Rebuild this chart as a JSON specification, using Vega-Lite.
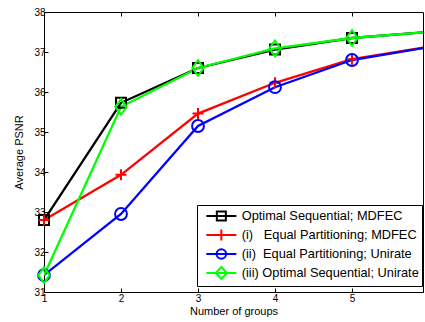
{
  "$schema": "https://vega.github.io/schema/vega-lite/v6.json",
  "width": 379,
  "height": 280,
  "autosize": {"type": "none"},
  "padding": {"left": 44, "top": 12, "right": 2, "bottom": 30},
  "config": {
    "font": "Liberation Sans",
    "view": {"stroke": "black", "strokeWidth": 1},
    "legend": {"rowPadding": 0},
    "axis": {"labelFont": "Liberation Sans", "titleFont": "Liberation Sans", "labelColor": "black", "titleColor": "black", "domainColor": "black", "tickColor": "black", "grid": false, "labelFontSize": 10, "titleFontSize": 11, "titleFontWeight": "normal", "labelOverlap": false}
  },
  "data": {"values": [
    {"g": 1, "s": "Optimal Sequential; MDFEC", "v": 32.8},
    {"g": 2, "s": "Optimal Sequential; MDFEC", "v": 35.73},
    {"g": 3, "s": "Optimal Sequential; MDFEC", "v": 36.6},
    {"g": 4, "s": "Optimal Sequential; MDFEC", "v": 37.06},
    {"g": 5, "s": "Optimal Sequential; MDFEC", "v": 37.35},
    {"g": 6, "s": "Optimal Sequential; MDFEC", "v": 37.5},
    {"g": 1, "s": "(i)\u00a0\u00a0\u00a0Equal Partitioning; MDFEC", "v": 32.8},
    {"g": 2, "s": "(i)\u00a0\u00a0\u00a0Equal Partitioning; MDFEC", "v": 33.93},
    {"g": 3, "s": "(i)\u00a0\u00a0\u00a0Equal Partitioning; MDFEC", "v": 35.46},
    {"g": 4, "s": "(i)\u00a0\u00a0\u00a0Equal Partitioning; MDFEC", "v": 36.23},
    {"g": 5, "s": "(i)\u00a0\u00a0\u00a0Equal Partitioning; MDFEC", "v": 36.82},
    {"g": 6, "s": "(i)\u00a0\u00a0\u00a0Equal Partitioning; MDFEC", "v": 37.13},
    {"g": 1, "s": "(ii)\u00a0\u00a0Equal Partitioning; Unirate", "v": 31.42},
    {"g": 2, "s": "(ii)\u00a0\u00a0Equal Partitioning; Unirate", "v": 32.95},
    {"g": 3, "s": "(ii)\u00a0\u00a0Equal Partitioning; Unirate", "v": 35.15},
    {"g": 4, "s": "(ii)\u00a0\u00a0Equal Partitioning; Unirate", "v": 36.12},
    {"g": 5, "s": "(ii)\u00a0\u00a0Equal Partitioning; Unirate", "v": 36.8},
    {"g": 6, "s": "(ii)\u00a0\u00a0Equal Partitioning; Unirate", "v": 37.12},
    {"g": 1, "s": "(iii) Optimal Sequential; Unirate", "v": 31.42},
    {"g": 2, "s": "(iii) Optimal Sequential; Unirate", "v": 35.63},
    {"g": 3, "s": "(iii) Optimal Sequential; Unirate", "v": 36.6},
    {"g": 4, "s": "(iii) Optimal Sequential; Unirate", "v": 37.09},
    {"g": 5, "s": "(iii) Optimal Sequential; Unirate", "v": 37.35},
    {"g": 6, "s": "(iii) Optimal Sequential; Unirate", "v": 37.5}
  ]},
  "layer": [
    {
      "mark": {"type": "line", "strokeWidth": 2.3, "clip": true},
      "encoding": {
        "x": {"field": "g", "type": "quantitative", "scale": {"domain": [1, 5.922], "nice": false, "zero": false}, "axis": {"values": [1, 2, 3, 4, 5], "title": "Number of groups", "tickSize": -4, "labelPadding": 5, "titlePadding": 2, "labelFlush": false, "labelOverlap": false}},
        "y": {"field": "v", "type": "quantitative", "scale": {"domain": [31, 38], "nice": false, "zero": false}, "axis": {"values": [31, 32, 33, 34, 35, 36, 37, 38], "title": "Average PSNR", "tickSize": -4, "labelPadding": 3, "titlePadding": 9, "labelOverlap": false, "labelFlush": false}},
        "color": {"field": "s", "type": "nominal", "sort": null, "scale": {"domain": ["Optimal Sequential; MDFEC", "(i)\u00a0\u00a0\u00a0Equal Partitioning; MDFEC", "(ii)\u00a0\u00a0Equal Partitioning; Unirate", "(iii) Optimal Sequential; Unirate"], "range": ["#000000", "#ff0000", "#0000ff", "#00ff00"]}, "legend": null}
      }
    },
    {
      "transform": [{"filter": "datum.g <= 5"}],
      "mark": {"type": "point", "filled": false, "strokeWidth": 2, "opacity": 1},
      "encoding": {
        "x": {"field": "g", "type": "quantitative", "axis": null},
        "y": {"field": "v", "type": "quantitative", "axis": {"values": [31, 32, 33, 34, 35, 36, 37, 38], "title": "Average PSNR", "tickSize": -4, "labelPadding": 3, "titlePadding": 9, "labelOverlap": false, "labelFlush": false}},
        "color": {"field": "s", "type": "nominal", "sort": null, "scale": {"domain": ["Optimal Sequential; MDFEC", "(i)\u00a0\u00a0\u00a0Equal Partitioning; MDFEC", "(ii)\u00a0\u00a0Equal Partitioning; Unirate", "(iii) Optimal Sequential; Unirate"], "range": ["#000000", "#ff0000", "#0000ff", "#00ff00"]}, "legend": null},
        "shape": {"field": "s", "type": "nominal", "sort": null, "scale": {"domain": ["Optimal Sequential; MDFEC", "(i)\u00a0\u00a0\u00a0Equal Partitioning; MDFEC", "(ii)\u00a0\u00a0Equal Partitioning; Unirate", "(iii) Optimal Sequential; Unirate"], "range": ["square", "M-1,0H1M0,-1V1", "circle", "M0,-1.25L0.9,0L0,1.25L-0.9,0Z"]}, "legend": null},
        "size": {"field": "s", "type": "nominal", "sort": null, "scale": {"domain": ["Optimal Sequential; MDFEC", "(i)\u00a0\u00a0\u00a0Equal Partitioning; MDFEC", "(ii)\u00a0\u00a0Equal Partitioning; Unirate", "(iii) Optimal Sequential; Unirate"], "range": [100, 160, 150, 150]}, "legend": null}
      }
    },
    {
      "mark": {"type": "point", "filled": false, "strokeWidth": 2, "opacity": 0, "clip": true},
      "encoding": {
        "x": {"field": "g", "type": "quantitative", "axis": {"orient": "top", "values": [1, 2, 3, 4, 5], "labels": false, "title": null, "tickSize": -4, "domain": false}},
        "y": {"field": "v", "type": "quantitative", "axis": {"values": [31, 32, 33, 34, 35, 36, 37, 38], "title": "Average PSNR", "tickSize": -4, "labelPadding": 3, "titlePadding": 9, "labelOverlap": false, "labelFlush": false}},
        "color": {"field": "s", "type": "nominal", "sort": null, "scale": {"domain": ["Optimal Sequential; MDFEC", "(i)\u00a0\u00a0\u00a0Equal Partitioning; MDFEC", "(ii)\u00a0\u00a0Equal Partitioning; Unirate", "(iii) Optimal Sequential; Unirate"], "range": ["#000000", "#ff0000", "#0000ff", "#00ff00"]}, "legend": {"title": null}},
        "shape": {"field": "s", "type": "nominal", "sort": null, "scale": {"domain": ["Optimal Sequential; MDFEC", "(i)\u00a0\u00a0\u00a0Equal Partitioning; MDFEC", "(ii)\u00a0\u00a0Equal Partitioning; Unirate", "(iii) Optimal Sequential; Unirate"], "range": ["M-2.26,0H2.26M-0.68,-0.68H0.68V0.68H-0.68Z", "M-2.26,0H2.26M0,-0.83V0.83", "M-2.26,0H2.26M0.72,0A0.72,0.72 0 1,1 -0.72,0A0.72,0.72 0 1,1 0.72,0Z", "M-2.26,0H2.26M0,-0.9L0.83,0L0,0.9L-0.83,0Z"]}, "legend": {"title": null, "orient": "none", "legendX": 153, "legendY": 193, "symbolSize": 177, "symbolOffset": 13.35, "symbolStrokeWidth": 2, "symbolOpacity": 1, "symbolFillColor": "transparent", "labelFontSize": 12.8, "labelLimit": 400, "labelFont": "Liberation Sans", "labelColor": "black", "strokeColor": "black", "fillColor": "white", "padding": 3, "rowPadding": 0, "labelOffset": 12.35, "cornerRadius": 0}}
      }
    }
  ],
  "resolve": {"scale": {"shape": "independent", "size": "independent", "color": "independent"}, "axis": {"x": "independent"}}
}
